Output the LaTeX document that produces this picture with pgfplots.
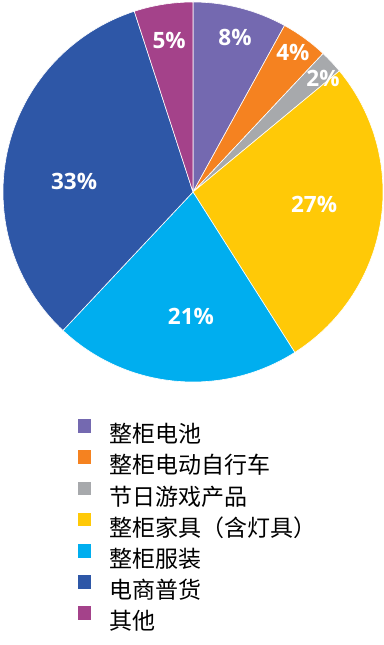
\documentclass[border=0pt]{standalone}
\usepackage{pgfplots}
\pgfplotsset{compat=1.18}
\usepackage{pgfplotstable}
\usepackage{fontspec}
\setmainfont{Open Sans}
\newfontfamily\cjk{Noto Sans CJK SC}
\definecolor{s0}{HTML}{7469B0}
\definecolor{s1}{HTML}{F58220}
\definecolor{s2}{HTML}{A7A9AC}
\definecolor{s3}{HTML}{FFC907}
\definecolor{s4}{HTML}{00AEEF}
\definecolor{s5}{HTML}{2E57A7}
\definecolor{s6}{HTML}{A4428A}

% share (%), label position in axis units
\pgfplotstableread{
v lx ly
8 0.221 0.811
4 0.526 0.737
2 0.684 0.595
27 0.637 -0.068
21 -0.011 -0.653
33 -0.626 0.053
5 -0.126 0.795
}\piedata

\begin{document}
\begin{tikzpicture}
\useasboundingbox (0,0) rectangle (384bp,645bp);
\begin{axis}[
  at={(193bp,453bp)}, anchor=center,
  width=380bp, height=380bp, scale only axis,
  xmin=-1, xmax=1, ymin=-1, ymax=1, enlargelimits=false,
  hide axis, clip=false,
  legend style={draw=none, fill=none, inner sep=0pt, outer sep=0pt,
    at={(0.197,-0.098)}, anchor=north west,
    row sep=4.7bp,
    nodes={inner sep=0pt, text height=20bp, text depth=3bp,
      font=\cjk\fontsize{23bp}{23bp}\selectfont}},
  legend cell align=left,
  legend image code/.code={%
    \path[draw=none,fill=none] (0bp,0bp) -- (32bp,0bp);
    \fill[#1, draw=none] (0bp,1.5bp) rectangle (13.5bp,15bp);},
]
\def\cum{0}
\pgfplotsinvokeforeach{0,...,6}{%
  \pgfplotstablegetelem{#1}{v}\of\piedata
  \let\val\pgfplotsretval
  \pgfmathsetmacro\sa{90-3.6*\cum}
  \pgfmathsetmacro\ea{90-3.6*(\cum+\val)}
  \pgfmathsetmacro\cum{\cum+\val}
  \edef\temp{\noexpand\fill[s#1, draw=white, line width=0.6bp]
    (axis cs:0,0) -- ++(\sa:190bp) arc[start angle=\sa, end angle=\ea, radius=190bp] -- cycle;}
  \temp
}
\addplot[forget plot, draw=none, mark=none,
  nodes near coords={\pgfplotspointmeta\%},
  point meta=explicit symbolic,
  every node near coord/.append style={anchor=center, text=white,
    font=\fontsize{22.5bp}{22.5bp}\selectfont\bfseries}]
  table[x=lx, y=ly, meta=v] {\piedata};
\addlegendimage{fill=s0}\addlegendentry{整柜电池}
\addlegendimage{fill=s1}\addlegendentry{整柜电动自行车}
\addlegendimage{fill=s2}\addlegendentry{节日游戏产品}
\addlegendimage{fill=s3}\addlegendentry{整柜家具（含灯具）}
\addlegendimage{fill=s4}\addlegendentry{整柜服装}
\addlegendimage{fill=s5}\addlegendentry{电商普货}
\addlegendimage{fill=s6}\addlegendentry{其他}
\end{axis}
\end{tikzpicture}
\end{document}
